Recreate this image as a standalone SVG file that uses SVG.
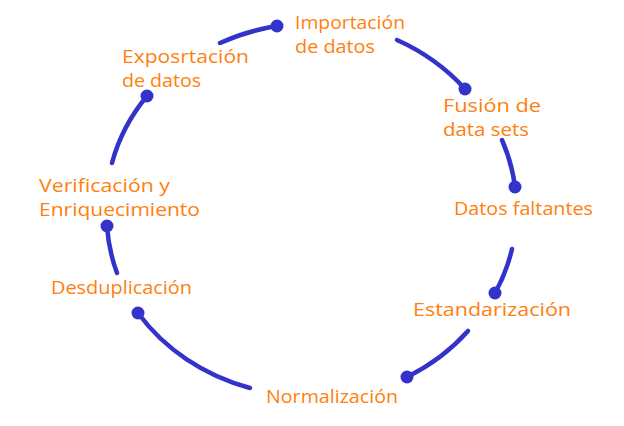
<svg xmlns="http://www.w3.org/2000/svg" width="624" height="426" viewBox="0 0 624 426">
<style>
.arc{fill:none;stroke:#3333cc;stroke-width:4.5;stroke-linecap:round}
.dot{fill:#3333cc}
.lbl{fill:#ff7f0e;font-family:"Comic Sans MS","Open Sans","Liberation Sans",sans-serif;font-size:18px}
</style>
<rect width="624" height="426" fill="#ffffff"/>
<g id="connectors">
<path class="arc" d="M220,43 A205,184 0 0 1 277,26"/>
<path class="arc" d="M397,40 A205,184 0 0 1 465,89"/>
<path class="arc" d="M502,140 A205,184 0 0 1 515,187"/>
<path class="arc" d="M512,249 A205,184 0 0 1 495,293"/>
<path class="arc" d="M468,331 A205,184 0 0 1 407,377"/>
<path class="arc" d="M250,388 A205,184 0 0 1 138,313"/>
<path class="arc" d="M117,273 A205,184 0 0 1 107,226"/>
<path class="arc" d="M112,163 A205,184 0 0 1 147,96"/>
<circle class="dot" cx="277" cy="26" r="6.5"/>
<circle class="dot" cx="465" cy="89" r="6.5"/>
<circle class="dot" cx="515" cy="187" r="6.5"/>
<circle class="dot" cx="495" cy="293" r="6.5"/>
<circle class="dot" cx="407" cy="377" r="6.5"/>
<circle class="dot" cx="138" cy="313" r="6.5"/>
<circle class="dot" cx="107" cy="226" r="6.5"/>
<circle class="dot" cx="147" cy="96" r="6.5"/>
</g>
<g id="importacion"><text class="lbl" x="295" y="29" textLength="110" lengthAdjust="spacingAndGlyphs">Importación</text><text class="lbl" x="295" y="53" textLength="80" lengthAdjust="spacingAndGlyphs">de datos</text></g>
<g id="fusion"><text class="lbl" x="443" y="112" textLength="98" lengthAdjust="spacingAndGlyphs">Fusión de</text><text class="lbl" x="443" y="136" textLength="86" lengthAdjust="spacingAndGlyphs">data sets</text></g>
<g id="faltantes"><text class="lbl" x="454" y="215" textLength="139" lengthAdjust="spacingAndGlyphs">Datos faltantes</text></g>
<g id="estandarizacion"><text class="lbl" x="413" y="316" textLength="158" lengthAdjust="spacingAndGlyphs">Estandarización</text></g>
<g id="normalizacion"><text class="lbl" x="266" y="403" textLength="132" lengthAdjust="spacingAndGlyphs">Normalización</text></g>
<g id="desduplicacion"><text class="lbl" x="51" y="294" textLength="141" lengthAdjust="spacingAndGlyphs">Desduplicación</text></g>
<g id="verificacion"><text class="lbl" x="39" y="192" textLength="131" lengthAdjust="spacingAndGlyphs">Verificación y</text><text class="lbl" x="39" y="216" textLength="161" lengthAdjust="spacingAndGlyphs">Enriquecimiento</text></g>
<g id="exportacion"><text class="lbl" x="122" y="63" textLength="127" lengthAdjust="spacingAndGlyphs">Exposrtación</text><text class="lbl" x="122" y="87" textLength="79" lengthAdjust="spacingAndGlyphs">de datos</text></g>
</svg>
